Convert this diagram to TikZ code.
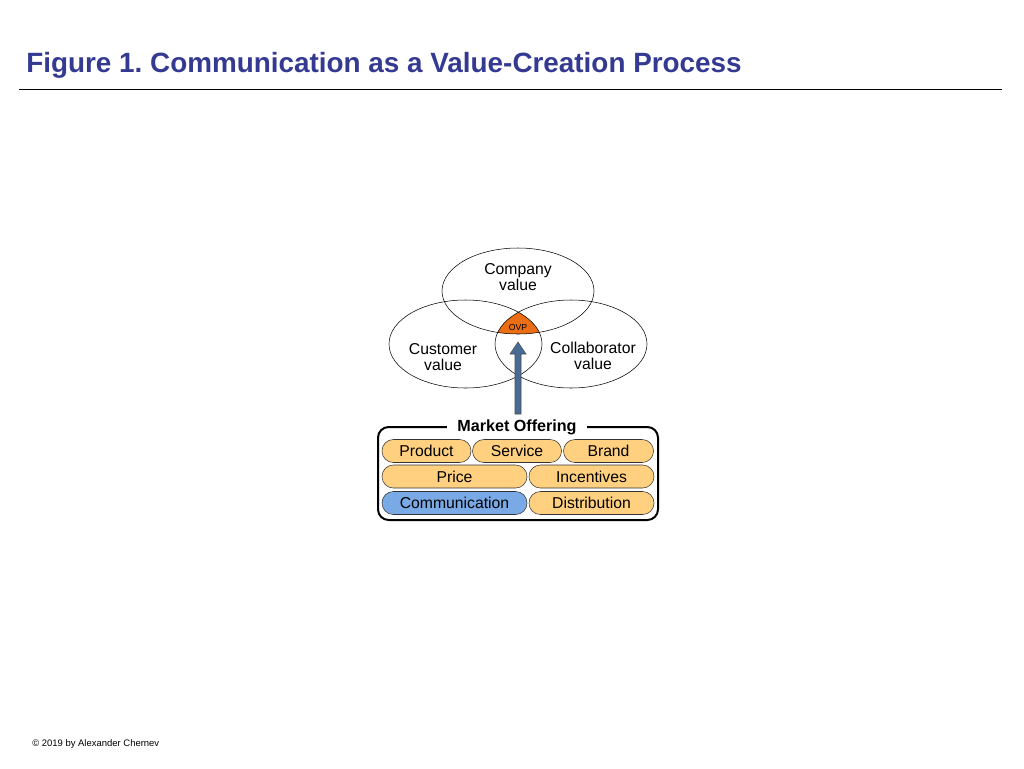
\documentclass[tikz,border=0pt]{standalone}
\usepackage{fontspec}
\setmainfont{Liberation Sans}
\frenchspacing
\definecolor{titleblue}{RGB}{52,58,146}
\definecolor{ovporange}{RGB}{235,110,20}
\definecolor{pillorange}{RGB}{255,208,128}
\definecolor{pillblue}{RGB}{122,170,230}
\definecolor{arrowblue}{RGB}{72,108,150}
\tikzset{
  pill/.style={draw=black!80, rounded corners=8.5pt, fill=pillorange, minimum height=17.25pt,
    minimum width=#1*0.75pt, inner sep=0pt, font=\fontsize{11.8pt}{13pt}\selectfont},
  valuetext/.style={align=center, inner sep=0pt, font=\fontsize{11.8pt}{12pt}\selectfont},
}
\begin{document}
\begin{tikzpicture}[x=0.75pt,y=-0.75pt]
\useasboundingbox (0,0) rectangle (1024,768);
\node[anchor=base west, text=titleblue, font=\fontsize{20.9pt}{24pt}\selectfont\bfseries, inner sep=0pt] (title) at (26,72) {Figure 1. Communication as a Value-Creation Process};
\draw (19,89) -- (1002,89);
% three values
\begin{scope}
\clip (518,291) ellipse (76 and 43);
\clip (465.5,344) ellipse (76.5 and 44);
\fill[ovporange] (571,344) ellipse (76 and 44);
\end{scope}
\draw (518,291) ellipse (76 and 43);
\draw (465.5,344) ellipse (76.5 and 44);
\draw (571,344) ellipse (76 and 44);
\node[valuetext] (company) at (518,277.5) {Company\\value};
\node[valuetext] (customer) at (443,357) {Customer\\value};
\node[valuetext] (collab) at (593,356) {Collaborator\\value};
\node[font=\fontsize{6.5pt}{7pt}\selectfont, inner sep=0pt] (ovp) at (518,328) {OVP};
% market offering
\draw[line width=1.5pt, rounded corners=8pt] (378,427) rectangle (658,520);
\node[fill=white, inner xsep=8pt, inner ysep=1pt, font=\fontsize{12.1pt}{13pt}\selectfont\bfseries] (offer) at (517,427) {Market Offering};
\node[pill=89] (product) at (426.5,451) {Product};
\node[pill=89] (service) at (517,451) {\raisebox{-2pt}{Service}};
\node[pill=90] (brand) at (608.5,451) {Brand};
\node[pill=145] (price) at (454.5,476.5) {Price};
\node[pill=125] (incent) at (591.5,476.5) {Incentives};
\node[pill=145, fill=pillblue] (comm) at (454.5,503) {Communication};
\node[pill=125] (distr) at (591.5,503) {Distribution};
% arrow from the offering to the OVP
\coordinate (base) at (518,414);
\coordinate (tip) at (518,342);
\draw[draw=black!70, fill=arrowblue, line width=0.4pt] (base) ++(-3,0) -- ++(0,-60) -- ++(-5,0) -- (tip) -- ++(8,12) -- ++(-5,0) -- ++(0,60) -- cycle;
\node[anchor=base west, inner sep=0pt, font=\fontsize{7.1pt}{8pt}\selectfont] (copy) at (32,746) {\textcopyright{} 2019 by Alexander Chernev};
\end{tikzpicture}
\end{document}
